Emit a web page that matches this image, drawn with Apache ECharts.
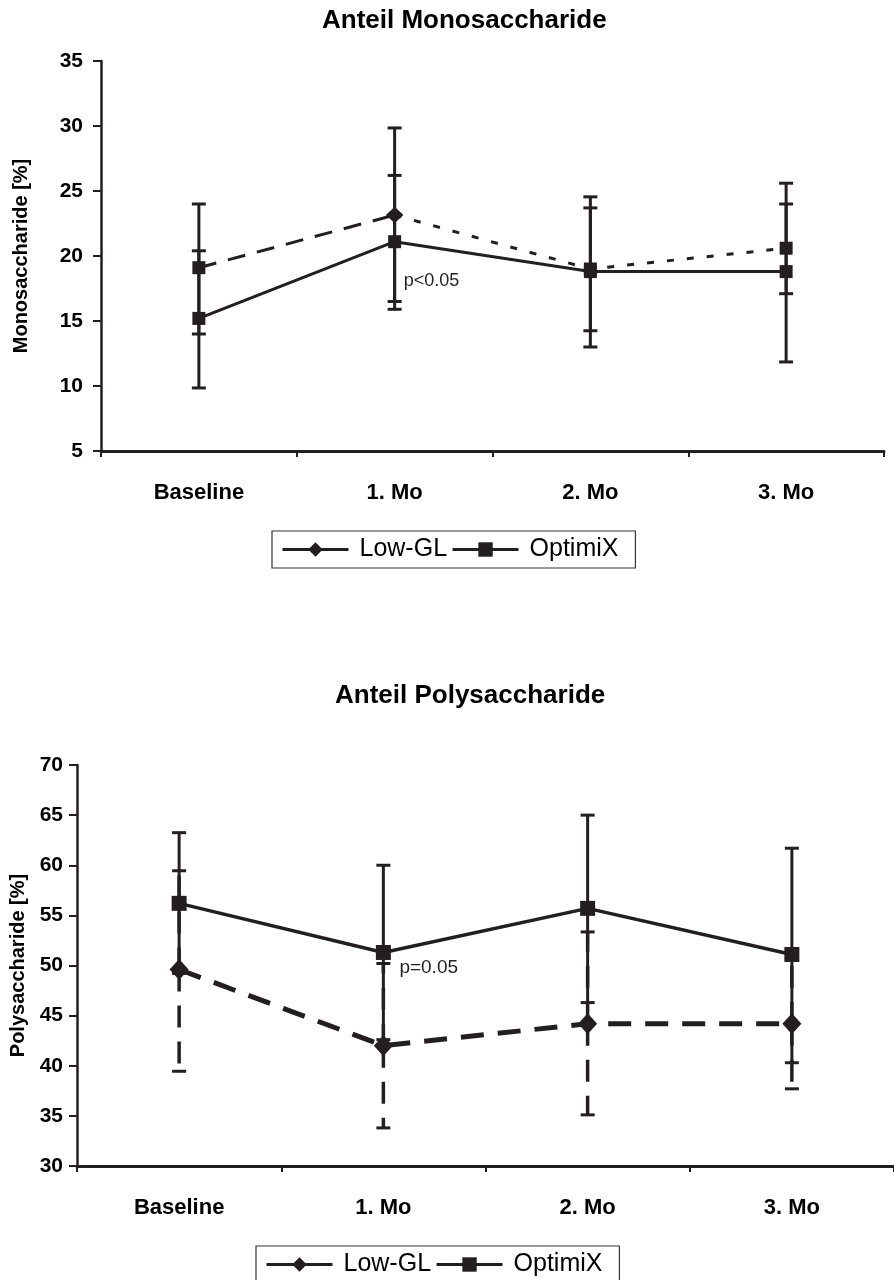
<!DOCTYPE html>
<html><head><meta charset="utf-8">
<script src="https://cdn.jsdelivr.net/npm/echarts@6/dist/echarts.min.js"></script>
<style>html,body{margin:0;padding:0;background:#fff}#c{width:894px;height:1280px}</style>
</head><body><div id="c"></div>
<script>
// ---- data ----
const categories = ['Baseline', '1. Mo', '2. Mo', '3. Mo'];
const seriesNames = ['Low-GL', 'OptimiX'];

const monoLowGL      = [19.1, 23.15, 19.0, 20.6];
const monoOptimiX    = [15.2, 21.1, 18.8, 18.8];
const monoLowGLLow   = [14.0, 16.5, 13.0, 17.1];
const monoLowGLHigh  = [24.0, 29.85, 24.55, 25.6];
const monoOptLow     = [9.85, 15.9, 14.25, 11.85];
const monoOptHigh    = [20.4, 26.2, 23.7, 24.0];

const polyLowGL      = [49.6, 42.0, 44.2, 44.2];
const polyOptimiX    = [56.2, 51.3, 55.7, 51.1];
const polyLowGLLow   = [39.45, 33.8, 35.1, 37.7];
const polyLowGLHigh  = [59.45, 50.2, 53.35, 50.7];
const polyOptLow     = [49.2, 42.6, 46.3, 40.3];
const polyOptHigh    = [63.25, 60.0, 65.0, 61.7];

const monoAxis = { min: 5, max: 35, interval: 5 };
const polyAxis = { min: 30, max: 70, interval: 5 };

const monoNote = { text: 'p<0.05', cat: 1, value: 18.1 };
const polyNote = { text: 'p=0.05', cat: 1, value: 49.75 };

// ---- styling ----
const INK = '#231f20';
const FONT = "'Liberation Sans', Arial, sans-serif";

function errBar(dashed, capW, lw) {
  return function (params, api) {
    const i = api.value(0);
    const m = api.coord([i, api.value(1)]);
    const lo = api.coord([i, api.value(2)]);
    const hi = api.coord([i, api.value(3)]);
    const x = m[0];
    const ls = { stroke: INK, lineWidth: lw, lineDash: dashed ? [22, 14] : null, fill: null };
    const cs = { stroke: INK, lineWidth: 3, fill: null };
    return { type: 'group', children: [
      { type: 'line', shape: { x1: x, y1: m[1], x2: x, y2: hi[1] }, style: ls },
      { type: 'line', shape: { x1: x, y1: m[1], x2: x, y2: lo[1] }, style: ls },
      { type: 'line', shape: { x1: x - capW / 2, y1: hi[1], x2: x + capW / 2, y2: hi[1] }, style: cs },
      { type: 'line', shape: { x1: x - capW / 2, y1: lo[1], x2: x + capW / 2, y2: lo[1] }, style: cs }
    ]};
  };
}
function errSeries(name, gi, mean, lo, hi, dashed, capW, lw) {
  return {
    type: 'custom', name: name, xAxisIndex: gi, yAxisIndex: gi, z: 1,
    renderItem: errBar(dashed, capW, lw),
    dimensions: ['x', 'mean', 'lo', 'hi'],
    encode: { x: 0, y: [1, 2, 3] },
    data: categories.map((c, i) => [i, mean[i], lo[i], hi[i]]),
    silent: true
  };
}
function noteSeries(gi, note, dx, size) {
  return {
    type: 'custom', name: 'note' + gi, xAxisIndex: gi, yAxisIndex: gi, z: 5, silent: true,
    renderItem: function (params, api) {
      const p = api.coord([api.value(0), api.value(1)]);
      return { type: 'text', x: p[0] + dx, y: p[1],
        style: { text: note.text, fill: INK, font: size + 'px ' + FONT, textAlign: 'left', textVerticalAlign: 'middle' } };
    },
    encode: { x: 0, y: 1 },
    data: [[note.cat, note.value]]
  };
}
function yAxisOpt(gi, ax, name, nameGap, margin) {
  return {
    type: 'value', gridIndex: gi, min: ax.min, max: ax.max, interval: ax.interval,
    name: name, nameLocation: 'middle', nameGap: nameGap, nameRotate: 90,
    nameTextStyle: { fontFamily: FONT, fontWeight: 'bold', fontSize: 20, color: '#000' },
    axisLine: { show: true, lineStyle: { color: INK, width: 2.5 } },
    axisTick: { show: true, length: 8, inside: false, lineStyle: { color: INK, width: 2 } },
    axisLabel: { fontFamily: FONT, fontWeight: 'bold', fontSize: 21, color: '#000', margin: margin },
    splitLine: { show: false }
  };
}
function xAxisOpt(gi) {
  return {
    type: 'category', gridIndex: gi, data: categories, boundaryGap: true,
    axisLine: { show: true, onZero: false, lineStyle: { color: INK, width: 3 } },
    axisTick: { show: true, length: 6, inside: false, alignWithLabel: false, lineStyle: { color: INK, width: 2 } },
    axisLabel: { fontFamily: FONT, fontWeight: 'bold', fontSize: 22, color: '#000', margin: 31, interval: 0 },
    splitLine: { show: false }
  };
}
function legendOpt(left, top) {
  return {
    data: seriesNames, left: left, top: top, orient: 'horizontal',
    itemWidth: 66, itemHeight: 18, itemGap: 4,
    padding: [6, 17, 6, 9],
    backgroundColor: '#fff', borderColor: '#333', borderWidth: 1.2, borderRadius: 0,
    selectedMode: false,
    lineStyle: { type: 'solid', width: 3, color: INK },
    itemStyle: { color: INK },
    textStyle: { fontFamily: FONT, fontSize: 25, color: '#000', padding: [0, 0, 0, 6] }
  };
}

const lineBase = { type: 'line', smooth: false, connectNulls: false, z: 3, color: INK };

const chart = echarts.init(document.getElementById('c'), null, { renderer: 'canvas' });
chart.setOption({
  animation: false,
  backgroundColor: '#fff',
  title: [
    { text: 'Anteil Monosaccharide', left: 322, top: 8, padding: 0,
      textStyle: { fontFamily: FONT, fontWeight: 'bold', fontSize: 26, color: '#000' } },
    { text: 'Anteil Polysaccharide', left: 335, top: 683, padding: 0,
      textStyle: { fontFamily: FONT, fontWeight: 'bold', fontSize: 26, color: '#000' } }
  ],
  legend: [legendOpt(272, 531), legendOpt(256, 1246)],
  grid: [
    { left: 101, top: 61, width: 783, height: 390, containLabel: false },
    { left: 77, top: 765, width: 826, height: 401, containLabel: false }
  ],
  xAxis: [xAxisOpt(0), xAxisOpt(1)],
  yAxis: [
    yAxisOpt(0, monoAxis, 'Monosaccharide [%]', 70, 18),
    yAxisOpt(1, polyAxis, 'Polysaccharide [%]', 46, 14)
  ],
  series: [
    // top chart
    errSeries('errMonoLow', 0, monoLowGL, monoLowGLLow, monoLowGLHigh, false, 14, 3),
    errSeries('errMonoOpt', 0, monoOptimiX, monoOptLow, monoOptHigh, false, 14, 3),
    Object.assign({}, lineBase, {
      name: 'Low-GL', xAxisIndex: 0, yAxisIndex: 0,
      symbol: 'diamond', symbolSize: [17, 16],
      lineStyle: { color: INK, width: 3, type: [18, 12] },
      itemStyle: { color: INK },
      data: monoLowGL.map((v, i) => i <= 1 ? { value: v, symbol: i === 1 ? 'diamond' : 'rect', symbolSize: i === 1 ? [17, 16] : 13 } : null)
    }),
    Object.assign({}, lineBase, {
      name: 'Low-GL', xAxisIndex: 0, yAxisIndex: 0,
      symbol: 'rect', symbolSize: 13,
      lineStyle: { color: INK, width: 3, type: [7, 13] },
      itemStyle: { color: INK },
      data: monoLowGL.map((v, i) => i >= 1 ? { value: v, symbol: i === 1 ? 'diamond' : 'rect', symbolSize: i === 1 ? [17, 16] : 13 } : null)
    }),
    Object.assign({}, lineBase, {
      name: 'OptimiX', xAxisIndex: 0, yAxisIndex: 0,
      symbol: 'rect', symbolSize: 13,
      lineStyle: { color: INK, width: 3, type: 'solid' },
      itemStyle: { color: INK },
      data: monoOptimiX.slice()
    }),
    noteSeries(0, monoNote, 9, 18),
    // bottom chart
    errSeries('errPolyLow', 1, polyLowGL, polyLowGLLow, polyLowGLHigh, true, 14, 3.5),
    errSeries('errPolyOpt', 1, polyOptimiX, polyOptLow, polyOptHigh, false, 14, 3),
    Object.assign({}, lineBase, {
      name: 'Low-GL', xAxisIndex: 1, yAxisIndex: 1,
      symbol: 'diamond', symbolSize: [19, 21],
      lineStyle: { color: INK, width: 5, type: [23, 14] },
      itemStyle: { color: INK },
      data: polyLowGL.slice()
    }),
    Object.assign({}, lineBase, {
      name: 'OptimiX', xAxisIndex: 1, yAxisIndex: 1,
      symbol: 'rect', symbolSize: 15,
      lineStyle: { color: INK, width: 3.5, type: 'solid' },
      itemStyle: { color: INK },
      data: polyOptimiX.slice()
    }),
    noteSeries(1, polyNote, 16, 19)
  ]
});
</script>
</body></html>
